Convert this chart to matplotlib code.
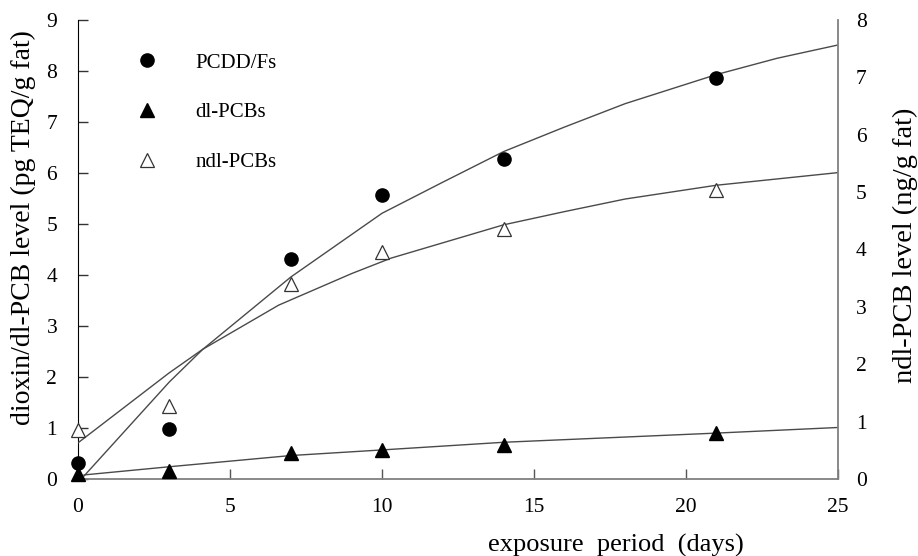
import matplotlib
matplotlib.use("Agg")
import matplotlib.pyplot as plt
from matplotlib.lines import Line2D

plt.rcParams['font.family'] = ['Liberation Serif', 'DejaVu Serif']

# measured data (left axis: pg TEQ/g fat, right axis: ng/g fat)
days = [0, 3, 7, 10, 14, 21]
pcdd = [0.32, 0.99, 4.32, 5.56, 6.28, 7.86]
dlpcb = [0.10, 0.16, 0.51, 0.57, 0.67, 0.91]
ndlpcb = [0.86, 1.27, 3.40, 3.95, 4.35, 5.04]

# fitted curves
pcdd_fit_x = [0.2, 3, 4.1, 7, 10, 12, 14, 16, 18, 21, 23, 25]
pcdd_fit_y = [0.06, 1.90, 2.54, 3.96, 5.21, 5.82, 6.42, 6.90, 7.36, 7.93, 8.25, 8.51]
dl_fit_x = [0.2, 3, 7, 10, 14, 21, 25]
dl_fit_y = [0.08, 0.24, 0.46, 0.57, 0.72, 0.90, 1.01]
ndl_fit_x = [0, 3, 4.1, 6.6, 9, 10.3, 14, 16, 18, 21, 25]
ndl_fit_y = [0.63, 1.85, 2.26, 3.03, 3.58, 3.85, 4.43, 4.66, 4.88, 5.12, 5.34]

xticks = [0, 5, 10, 15, 20, 25]
left_ticks = list(range(0, 10))
right_ticks = list(range(0, 9))

W, H = 918, 556
fig = plt.figure(figsize=(W / 100, H / 100), dpi=100)
L, R, T, B = 78, 838, 20, 479
ax = fig.add_axes([L / W, (H - B) / H, (R - L) / W, (B - T) / H])
ax2 = ax.twinx()

line_c = '#4a4a4a'
lw = 1.0
ax.plot(pcdd_fit_x, pcdd_fit_y, color=line_c, lw=lw, zorder=2)
ax.plot(dl_fit_x, dl_fit_y, color=line_c, lw=lw, zorder=2)
ax2.plot(ndl_fit_x, ndl_fit_y, color=line_c, lw=lw, zorder=2)

ax.plot(days, pcdd, 'o', color='black', ms=9.5, zorder=4, clip_on=False)
ax.plot(days, dlpcb, '^', color='black', ms=9.5, zorder=4, clip_on=False)
ax2.plot(days, ndlpcb, '^', mfc='white', mec='#333333', mew=0.9, ms=10,
         zorder=4, clip_on=False)

ax.set_xlim(0, 25)
ax.set_ylim(0, 9)
ax2.set_ylim(0, 8)
ax.set_xticks(xticks)
ax.set_yticks(left_ticks)
ax2.set_yticks(right_ticks)

fs = 15.5
ax.tick_params(axis='x', direction='in', length=7, width=1, color='#555555',
               labelsize=fs, pad=14)
ax.tick_params(axis='y', direction='in', length=7, width=1, color='#333333',
               labelsize=fs, pad=15)
ax2.tick_params(axis='y', length=0, labelsize=fs, pad=13)

for a in (ax, ax2):
    a.spines['top'].set_visible(False)
ax.spines['left'].set_color('black')
ax.spines['bottom'].set_color('#808080')
ax.spines['bottom'].set_linewidth(1.3)
ax2.spines['right'].set_color('#808080')
ax2.spines['right'].set_linewidth(1.3)
ax2.spines['left'].set_visible(False)
ax2.spines['bottom'].set_visible(False)
ax.spines['right'].set_visible(False)

ax.set_xlabel('exposure  period  (days)', fontsize=19)
ax.xaxis.set_label_coords((616 - L) / (R - L), (B - 545) / (B - T))
ax.xaxis.label.set_va('center')
ax.set_ylabel('dioxin/dl-PCB level (pg TEQ/g fat)', fontsize=20)
ax.yaxis.set_label_coords((23 - L) / (R - L), (B - 228) / (B - T))
ax.yaxis.label.set_va('center')
ax2.set_ylabel('ndl-PCB level (ng/g fat)', fontsize=20.5, rotation=90)
ax2.yaxis.set_label_coords((905 - L) / (R - L), (B - 245) / (B - T))
ax2.yaxis.label.set_va('center')

handles = [
    Line2D([], [], ls='none', marker='o', color='black', ms=9.5),
    Line2D([], [], ls='none', marker='^', color='black', ms=9.5),
    Line2D([], [], ls='none', marker='^', mfc='white', mec='#333333', mew=0.9, ms=10),
]
labels = ['PCDD/Fs', 'dl-PCBs', 'ndl-PCBs']
ax2.legend(handles, labels, loc='upper left', frameon=False, fontsize=15,
           handlelength=1.0, handletextpad=1.8, labelspacing=1.45,
           borderpad=0, borderaxespad=0,
           bbox_to_anchor=((137 - L) / (R - L), (B - 53) / (B - T)))

fig.savefig('out.png', dpi=100)
